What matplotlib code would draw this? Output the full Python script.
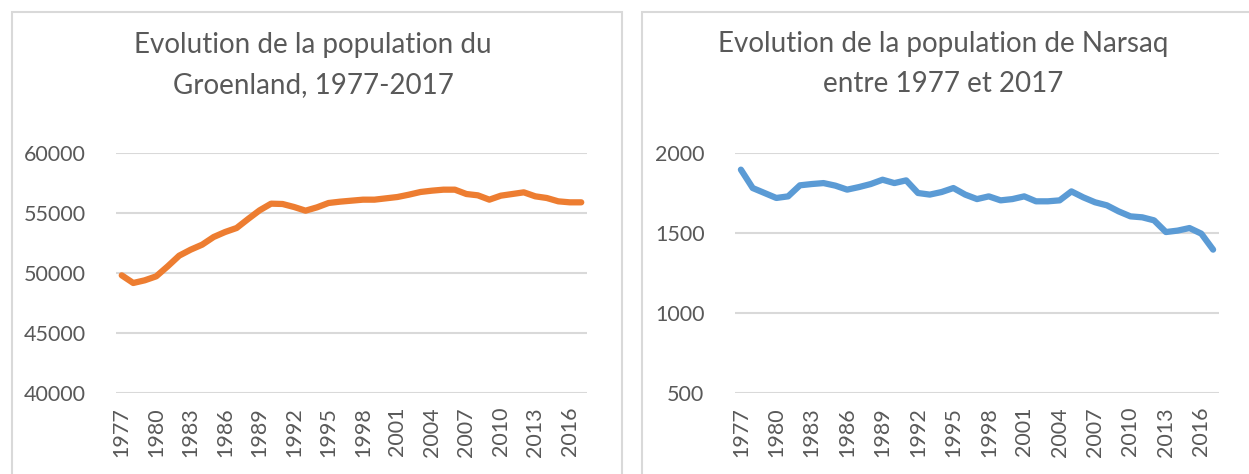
import matplotlib.pyplot as plt
from matplotlib.patches import Rectangle
import numpy as np

# years on the category axis
years = list(range(1977, 2018))

# population values
groenland = [49806, 49167, 49390, 49722, 50556, 51444, 51944, 52361, 53000, 53417,
             53750, 54500, 55222, 55778, 55750, 55500, 55194, 55472, 55833, 55944,
             56028, 56111, 56111, 56222, 56333, 56528, 56750, 56861, 56944, 56944,
             56583, 56472, 56111, 56444, 56583, 56722, 56389, 56250, 55972, 55889,
             55889]
narsaq = [1896, 1781, 1750, 1719, 1729, 1798, 1806, 1812, 1796, 1771,
          1787, 1806, 1833, 1812, 1829, 1750, 1740, 1756, 1781, 1740,
          1712, 1729, 1704, 1712, 1729, 1698, 1698, 1704, 1760, 1723,
          1692, 1673, 1635, 1604, 1598, 1579, 1506, 1515, 1531, 1496,
          1396]
tick_years = list(range(1977, 2017, 3))

plt.rcParams['font.family'] = ['Lato', 'DejaVu Sans']
text_col = '#595959'
grid_col = '#D9D9D9'

W, H = 1249, 474
fig = plt.figure(figsize=(W / 100, H / 100), dpi=100)

# panel frames (bottom edge is cut off in the reference)
fig.add_artist(Rectangle((12 / W, -0.05), 610 / W, 1.05 - 12 / H, transform=fig.transFigure,
                         fill=False, edgecolor=grid_col, lw=1.5))
fig.add_artist(Rectangle((642 / W, -0.05), 700 / W, 1.05 - 12 / H, transform=fig.transFigure,
                         fill=False, edgecolor=grid_col, lw=1.5))


def setup(ax, ylim, yticks):
    ax.set_xlim(years[0] - 0.5, years[-1] + 0.5)
    ax.set_ylim(*ylim)
    ax.set_yticks(yticks)
    ax.set_yticklabels([str(v) for v in yticks])
    ax.set_xticks(tick_years)
    ax.set_xticklabels([str(y) for y in tick_years], rotation=90)
    for s in ax.spines.values():
        s.set_visible(False)
    ax.tick_params(length=0, colors=text_col, labelsize=15.5)
    ax.tick_params(axis='y', pad=22)
    ax.tick_params(axis='x', pad=10)
    ax.grid(axis='y', color=grid_col, lw=1.5)
    ax.set_axisbelow(True)


ax1 = fig.add_axes([116 / W, 1 - 393 / H, 471 / W, 240 / H])
ax1.plot(years, groenland, color='#ED7D31', lw=4.5, solid_capstyle='round', solid_joinstyle='round')
setup(ax1, (40000, 60000), [40000, 45000, 50000, 55000, 60000])

ax2 = fig.add_axes([735 / W, 1 - 393 / H, 484 / W, 240 / H])
ax2.plot(years, narsaq, color='#5B9BD5', lw=4.5, solid_capstyle='round', solid_joinstyle='round')
setup(ax2, (500, 2000), [500, 1000, 1500, 2000])

fig.text(313 / W, 1 - 65 / H, "Evolution de la population du\nGroenland, 1977-2017",
         ha='center', va='center', fontsize=20, color=text_col, linespacing=1.65)
fig.text(943 / W, 1 - 64 / H, "Evolution de la population de Narsaq\nentre 1977 et 2017",
         ha='center', va='center', fontsize=20, color=text_col, linespacing=1.65)

fig.savefig('out.png', dpi=100)
